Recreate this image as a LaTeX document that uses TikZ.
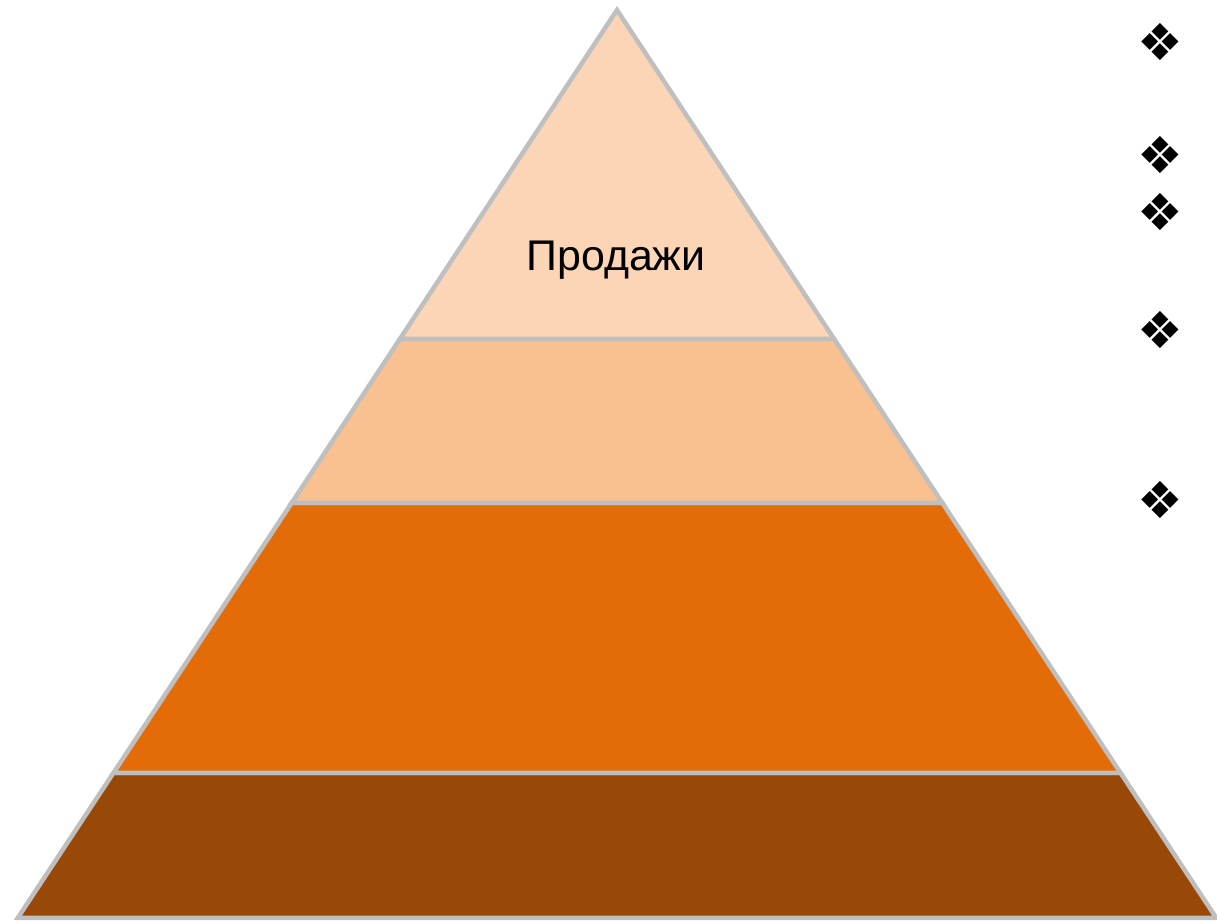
\documentclass[tikz,border=0pt]{standalone}
\usepackage{fontspec}
\setmainfont{Liberation Sans}
\newfontfamily\symfont{DejaVu Sans}
\usetikzlibrary{positioning}

\definecolor{tierA}{HTML}{FBD5B5}
\definecolor{tierB}{HTML}{F9C090}
\definecolor{tierC}{HTML}{E36C09}
\definecolor{tierD}{HTML}{984807}
\definecolor{rim}{HTML}{BFBFBF}

\begin{document}
\begin{tikzpicture}[x=0.01cm, y=-0.01cm,
        tier/.style={draw=rim, line width=0.045cm, line join=miter},
        lab/.style={font=\fontsize{12.2}{14}\selectfont, text=black},
        bullet/.style={font=\symfont\fontsize{14.5}{16}\selectfont, inner sep=0pt}]
      \useasboundingbox (0,0) rectangle (1217,922);
      % layer corners
      \coordinate (apex) at (617,10);
      \coordinate (l1) at (399.9,339);  \coordinate (r1) at (834.1,339);
      \coordinate (l2) at (291.6,503);  \coordinate (r2) at (942.4,503);
      \coordinate (l3) at (113.4,773);  \coordinate (r3) at (1120.6,773);
      \coordinate (l4) at (17.7,918);   \coordinate (r4) at (1216.3,918);
      % tiers, bottom first
      \draw[tier, fill=tierD] (l3) -- (r3) -- (r4) -- (l4) -- cycle;
      \draw[tier, fill=tierC] (l2) -- (r2) -- (r3) -- (l3) -- cycle;
      \draw[tier, fill=tierB] (l1) -- (r1) -- (r2) -- (l2) -- cycle;
      \draw[tier, fill=tierA] (apex) -- (r1) -- (l1) -- cycle;
      \node[lab] (sales) at (616,260) {Продажи};
      % bullets on the right
      \foreach \yy [count=\i] in {42,155,212,330,500}
        \node[bullet] (b\i) at (1160,\yy) {❖};
    \end{tikzpicture}
\end{document}
